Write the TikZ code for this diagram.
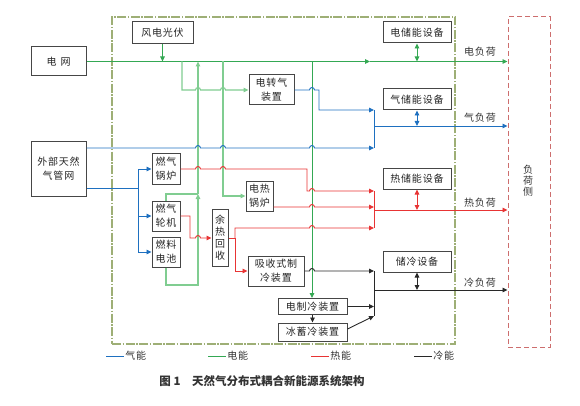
\documentclass[tikz,border=0pt]{standalone}
\usepackage{fontspec}
\setmainfont{Noto Sans CJK SC}
\usetikzlibrary{arrows.meta,calc}
\definecolor{gasblue}{RGB}{30,112,192}
\definecolor{elecgreen}{RGB}{52,168,83}
\definecolor{elecgreenlt}{RGB}{128,205,145}
\definecolor{heatred}{RGB}{232,52,52}
\definecolor{coldblack}{RGB}{40,40,40}
\definecolor{boxgray}{RGB}{70,70,70}
\definecolor{frameolive}{RGB}{158,175,118}
\definecolor{loadred}{RGB}{205,110,110}
\tikzset{
    ies diagram/.style = {x=1pt, y=-1pt, >={Triangle[length=5pt,width=4.5pt]}},
    unit/.style        = {draw=boxgray, line width=1pt, fill=white, align=center,
                          inner sep=1pt, text=black!85,
                          font=\fontsize{10}{14}\selectfont\addfontfeatures{LetterSpace=8}},
    wide unit/.style   = {unit, minimum width=68pt, minimum height=21pt},
    tall unit/.style   = {unit, minimum width=28pt, minimum height=30pt},
    gas/.style         = {draw=gasblue, line width=0.9pt},
    elec/.style        = {draw=elecgreen, line width=0.9pt},
    elec lt/.style     = {draw=elecgreenlt, line width=1.1pt},
    heat/.style        = {draw=heatred, line width=0.9pt},
    cold/.style        = {draw=coldblack, line width=0.9pt},
    tag/.style         = {font=\fontsize{10}{12}\selectfont\addfontfeatures{LetterSpace=8},
                          text=black!80},
    system frame/.style = {draw=frameolive, line width=1.3pt,
                          dash pattern=on 9pt off 1.5pt on 1.5pt off 1.5pt},
    load frame/.style  = {draw=loadred, line width=1pt, dash pattern=on 5pt off 3pt}
}
% hop of a horizontal line over a vertical one at (x,y)
\newcommand{\hop}[2]{-- (#1-2.5,#2) arc[start angle=180, end angle=0, radius=2.5pt]}

\begin{document}
\begin{tikzpicture}[ies diagram]
\useasboundingbox (0,0) rectangle (580,406);

% ================= Frames =================
\node[system frame, minimum width=343pt, minimum height=327pt, inner sep=0pt]
    (system) at (283.5,180.5) {};
\node[load frame, minimum width=42pt, minimum height=330pt, inner sep=0pt]
    (loads) at (529,182) {};
\node[tag, align=center, font=\fontsize{10}{11}\selectfont] (loadside) at (528,181) {负\\荷\\侧};

% ================= Units =================
\node[unit, minimum width=55pt, minimum height=29pt] (grid) at (58.5,61.5) {电\hspace{4pt}网};
\node[unit, minimum width=55pt, minimum height=54pt] (gasnet) at (58.5,169) {外部天然\\气管网};
\node[unit, minimum width=61pt, minimum height=22pt] (wind) at (162.5,33) {风电光伏};
\node[unit, minimum width=45pt, minimum height=30pt] (p2g) at (271.5,90) {电转气\\装置};
\node[tall unit] (gboiler) at (166,169) {燃气\\锅炉};
\node[tall unit] (gturb) at (166,216) {燃气\\轮机};
\node[tall unit] (fcell) at (166,252) {燃料\\电池};
\node[tall unit, minimum width=27pt] (eboiler) at (259.5,196) {电热\\锅炉};
\node[unit, minimum width=16pt, minimum height=57pt, font=\fontsize{10}{12}\selectfont]
    (whr) at (220,238) {余\\热\\回\\收};
\node[unit, minimum width=56pt, minimum height=30pt] (absorp) at (276,271) {吸收式制\\冷装置};
\node[unit, minimum width=69pt, minimum height=16pt] (echill) at (312.5,306.5) {电制冷装置};
\node[unit, minimum width=69pt, minimum height=18pt] (icest) at (312.5,332) {冰蓄冷装置};
\node[wide unit] (estore) at (417,32.5) {电储能设备};
\node[wide unit] (gstore) at (417,99.5) {气储能设备};
\node[wide unit] (hstore) at (417,178.5) {热储能设备};
\node[wide unit] (cstore) at (417,261.5) {储冷设备};

% ================= Bus points =================
\coordinate (ej1) at (182,61.5);
\coordinate (ej2) at (223,61.5);
\coordinate (ej3) at (312,61.5);
\coordinate (emid) at (370,61.5);
\coordinate (gmid) at (198,194);
\coordinate (gin1) at (374,110);
\coordinate (gin2) at (374,148);
\coordinate (gout) at (374,126);
\coordinate (gsplit) at (138,188);
\coordinate (hin1) at (374,191);
\coordinate (hin2) at (374,207);
\coordinate (hin3) at (374,228);
\coordinate (hout) at (374,210);
\coordinate (hsplit) at (235,238);
\coordinate (cin1) at (374,271);
\coordinate (cin2) at (374,306.5);
\coordinate (cin3) at (374,316);
\coordinate (cout) at (374,290);

% ================= Electricity =================
\draw[elec,->] (grid.east) -- (emid);
\draw[elec,->] (emid) -- (loads.west |- grid.east);
\draw[elec,->] (wind.south) -- (wind.south |- grid.east);
\draw[elec lt,->] (ej1) -- (182,90) \hop{198}{90} \hop{223}{90} -- (p2g.west);
\draw[elec lt,->] (fcell.south) -- (166,285) -- (198,285) -- (gmid);
\draw[elec lt] (gturb.north) |- (gmid);
\draw[elec lt,->] (gmid) -- (gmid |- grid.east);
\draw[elec lt,->] (ej2) |- (eboiler.west);
\draw[elec,->] (ej3) -- (ej3 |- echill.north);
\draw[elec,<->] (estore.south) -- (estore.south |- grid.east);

% ================= Gas =================
\draw[gas,->] ([yshift=21pt]gasnet.east) \hop{198}{148} \hop{223}{148} \hop{312}{148} -- (gin2);
\draw[gas,->] (p2g.east) \hop{312}{90} -- (319,90) -- (319,110) -- (gin1);
\draw[gas] (gin1) -- (gin2);
\draw[gas,->] (gout) -- (loads.west |- gout);
\draw[gas,<->] (gstore.south) -- (gstore.south |- gout);
\draw[gas] ([yshift=-19pt]gasnet.east) -- (gsplit);
\draw[gas] (gsplit |- gboiler.west) -- (gsplit |- fcell.west);
\foreach \u in {gboiler,gturb,fcell}
    \draw[gas,->] (gsplit |- \u.west) -- (\u.west);

% ================= Heat =================
\draw[heat,->] (gboiler.east) \hop{198}{169} \hop{223}{169} -- (307,169) -- (307,191) \hop{312}{191} -- (hin1);
\draw[heat,->] ([yshift=-11pt]eboiler.east) \hop{312}{207} -- (hin2);
\draw[heat,->] (gturb.east) -- (190,216) -- (190,238) \hop{198}{238} -- (whr.west);
\draw[heat] (whr.east) -- (hsplit);
\draw[heat,->] (hsplit) -- (235,228) \hop{312}{228} -- (hin3);
\draw[heat,->] (hsplit) |- (absorp.west);
\draw[heat] (hin1) -- (hin3);
\draw[heat,->] (hout) -- (loads.west |- hout);
\draw[heat,<->] (hstore.south) -- (hstore.south |- hout);

% ================= Cold =================
\draw[cold,->] (absorp.east) \hop{312}{271} -- (cin1);
\draw[cold,->] (echill.east) -- (cin2);
\draw[cold,->] ([yshift=3pt]icest.east) -- (cin3);
\draw[cold,->] (echill.south) -- (icest.north);
\draw[cold] (cin1) -- (cin3);
\draw[cold,->] (cout) -- (loads.west |- cout);
\draw[cold,<->] (cstore.south) -- (cstore.south |- cout);

% ================= Load tags =================
\node[tag] (etag) at (480,52) {电负荷};
\node[tag] (gtag) at (480,118) {气负荷};
\node[tag] (htag) at (480,203) {热负荷};
\node[tag] (ctag) at (480,283) {冷负荷};

% ================= Legend =================
\foreach \s/\t/\x in {gas/气能/106, elec/电能/208, heat/热能/311, cold/冷能/414}
    \draw[\s] (\x,356) -- ++(18,0) node[tag, anchor=west, inner sep=1pt] (key\x) {\t};

\node[font=\bfseries\fontsize{11.5}{14}\selectfont, text=black!80] (caption) at (262,381)
    {图 1\hspace{1em}天然气分布式耦合新能源系统架构};

\end{tikzpicture}
\end{document}
